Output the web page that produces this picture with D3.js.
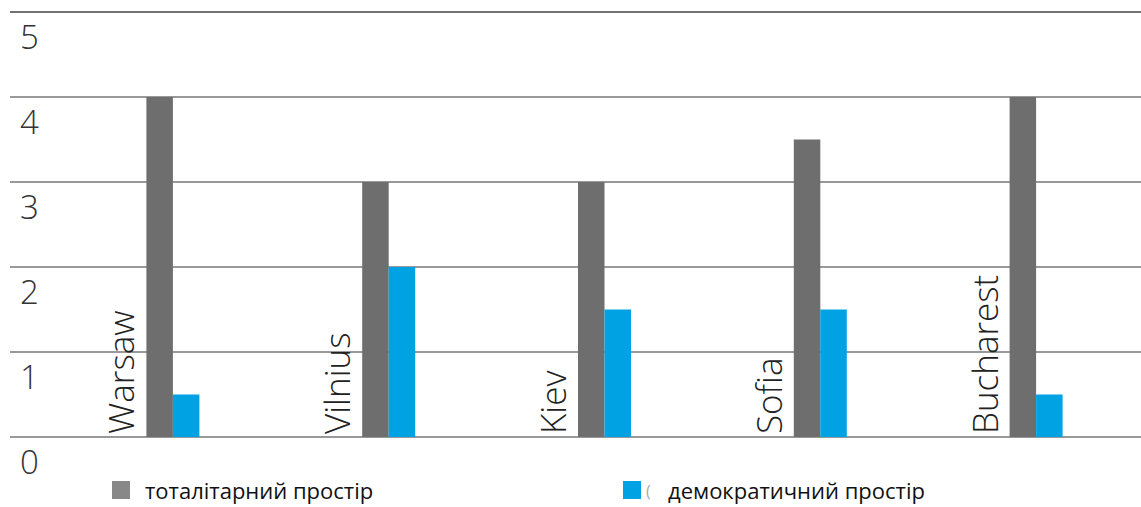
<!DOCTYPE html>
<html><head><meta charset="utf-8">
<script src="https://cdn.jsdelivr.net/npm/d3@7"></script>
<style>body{margin:0;background:#fff}svg{display:block}</style>
</head><body><svg id="c" width="1141" height="507"></svg>
<script>
const cities = ["Warsaw","Vilnius","Kiev","Sofia","Bucharest"];
const totalitarian = [4, 3, 3, 3.5, 4];
const democratic = [0.5, 2, 1.5, 1.5, 0.5];
const yTicks = [0,1,2,3,4,5];
const seriesNames = ["тоталітарний простір","демократичний простір"];
const colors = ["#6e6e6e","#00a2e3"];

const svg = d3.select("#c");
const y = d3.scaleLinear().domain([0,5]).range([437,12]);
const x = d3.scaleBand().domain(cities).range([65,1144]).padding(0);
const bw = 26.5;
const font = "'Open Sans', sans-serif";

// gridlines
svg.append("g").selectAll("line").data(yTicks).join("line")
  .attr("x1",10).attr("x2",1141)
  .attr("y1",d=>y(d)).attr("y2",d=>y(d))
  .attr("stroke",d=>d===5?"#444":"#777").attr("stroke-width",1.5);
// tick labels
svg.append("g").selectAll("text").data(yTicks).join("text")
  .attr("x",20).attr("y",d=>y(d)+37)
  .attr("font-family",font).attr("font-weight",300).attr("font-size",33)
  .attr("fill","#333").text(d=>d);

const groups = svg.append("g").selectAll("g").data(cities).join("g")
  .attr("transform",d=>`translate(${x(d)+x.bandwidth()/2},0)`);
groups.append("rect")
  .attr("x",-bw).attr("width",bw)
  .attr("y",(d,i)=>y(totalitarian[i])).attr("height",(d,i)=>y(0)-y(totalitarian[i]))
  .attr("fill",colors[0]);
groups.append("rect")
  .attr("x",0).attr("width",bw)
  .attr("y",(d,i)=>y(democratic[i])).attr("height",(d,i)=>y(0)-y(democratic[i]))
  .attr("fill",colors[1]);
groups.append("text")
  .attr("transform",`translate(${-bw-12},${y(0)-3}) rotate(-90)`)
  .attr("font-family",font).attr("font-weight",300).attr("font-size",35)
  .attr("fill","#222").text(d=>d);

// legend
const leg = [{x:112,tx:145},{x:623,tx:668}];
leg.forEach((l,i)=>{
  svg.append("rect").attr("x",l.x).attr("y",481).attr("width",18).attr("height",18)
    .attr("fill",i===0?"#888":colors[1]);
  svg.append("text").attr("x",l.tx).attr("y",499)
    .attr("font-family",font).attr("font-size",22).attr("fill","#111").text(seriesNames[i]);
});
svg.append("text").attr("x",646).attr("y",497).attr("font-family",font)
  .attr("font-size",16).attr("fill","#aaa").text("(");
</script></body></html>
